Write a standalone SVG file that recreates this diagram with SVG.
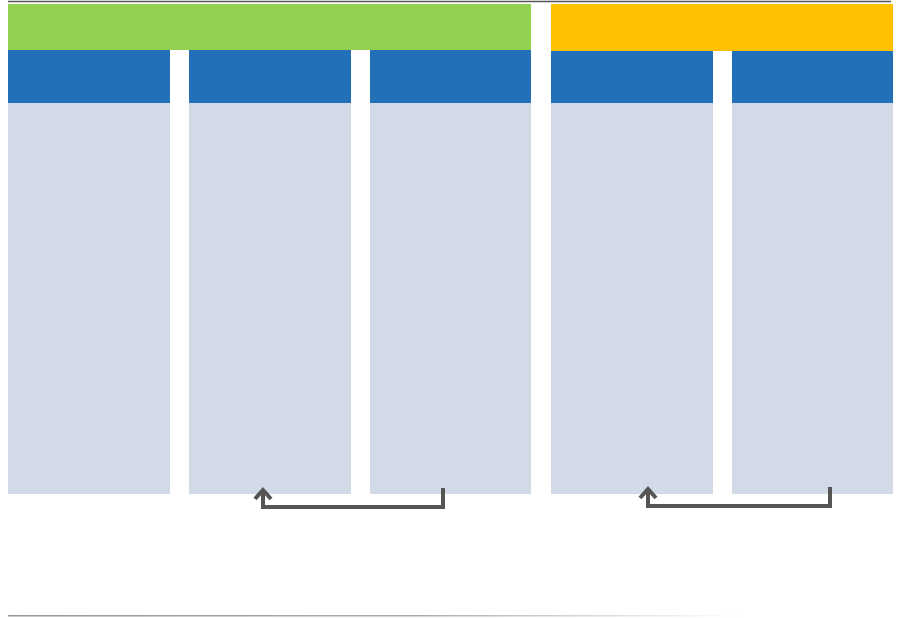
<svg xmlns="http://www.w3.org/2000/svg" width="900" height="618" viewBox="0 0 900 618">
<defs>
<style>
.hdr{fill:#2270B8}
.body{fill:#D2DAE8}
.conn{fill:none;stroke:#555;stroke-width:4;stroke-linejoin:miter}
.head{fill:none;stroke:#555;stroke-width:4;stroke-linejoin:miter;stroke-linecap:butt}
</style>
<linearGradient id="fade" gradientUnits="userSpaceOnUse" x1="8" y1="0" x2="740" y2="0">
<stop offset="0" stop-color="#999"/>
<stop offset="0.55" stop-color="#aaa"/>
<stop offset="1" stop-color="#fff"/>
</linearGradient>
</defs>
<rect width="900" height="618" fill="#fff"/>
<line x1="8" y1="1.5" x2="891" y2="1.5" stroke="#555" stroke-width="1.5"/>
<g id="band-green"><rect x="8" y="4" width="523" height="46" fill="#92D050"/></g>
<g id="band-orange"><rect x="551" y="4" width="342" height="47" fill="#FFC000"/></g>
<g id="col1"><rect class="hdr" x="8" y="50" width="162" height="53"/><rect class="body" x="8" y="103" width="162" height="391"/></g>
<g id="col2"><rect class="hdr" x="189" y="50" width="162" height="53"/><rect class="body" x="189" y="103" width="162" height="391"/></g>
<g id="col3"><rect class="hdr" x="370" y="50" width="161" height="53"/><rect class="body" x="370" y="103" width="161" height="391"/></g>
<g id="col4"><rect class="hdr" x="551" y="51" width="162" height="52"/><rect class="body" x="551" y="103" width="162" height="391"/></g>
<g id="col5"><rect class="hdr" x="732" y="51" width="161" height="52"/><rect class="body" x="732" y="103" width="161" height="391"/></g>
<g id="connectors">
<polyline class="conn" points="443,488 443,507 263,507 263,491"/>
<polyline class="head" points="255,499 263,490 271,499"/>
<polyline class="conn" points="830,487 830,506 648,506 648,490"/>
<polyline class="head" points="640,498 648,489 656,498"/>
</g>
<rect x="8" y="615" width="732" height="1.5" fill="url(#fade)"/>
</svg>
